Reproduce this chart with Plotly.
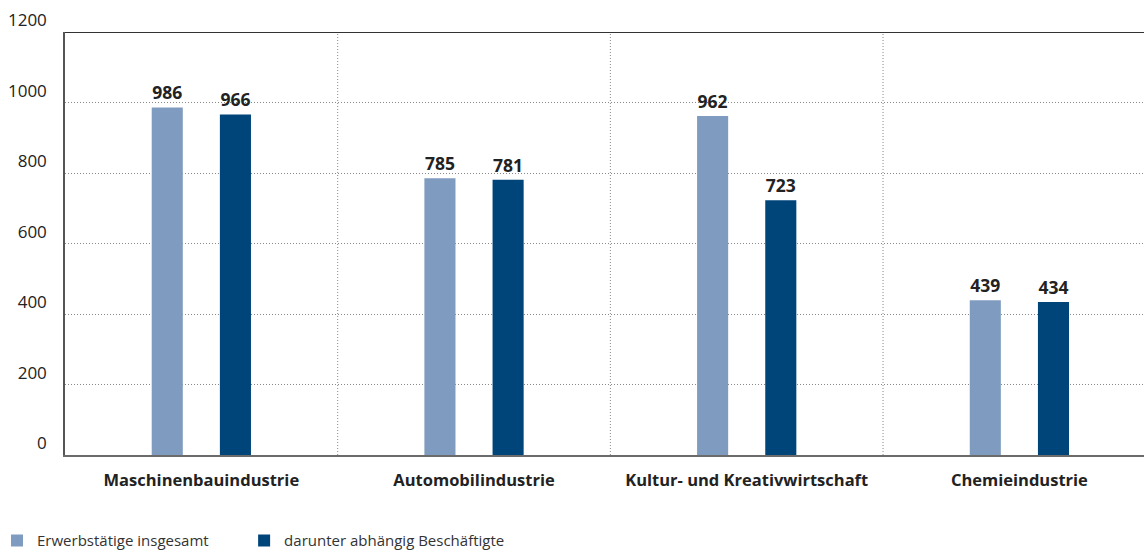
import plotly.graph_objects as go

categories = ["Maschinenbauindustrie", "Automobilindustrie", "Kultur- und Kreativwirtschaft", "Chemieindustrie"]
erwerbstaetige = [986, 785, 962, 439]
abhaengig = [966, 781, 723, 434]
series_names = ["Erwerbstätige insgesamt", "darunter abhängig Beschäftigte"]
y_ticks = [0, 200, 400, 600, 800, 1000, 1200]

light = "#7f9cc0"
dark = "#00457a"
font_family = "Open Sans, Noto Sans, sans-serif"

xpos = list(range(len(categories)))

fig = go.Figure()
fig.add_trace(go.Bar(
    x=xpos, y=erwerbstaetige, name=series_names[0],
    marker=dict(color=light, line=dict(width=0)),
    width=0.114, offset=-0.182,
    text=[str(v) for v in erwerbstaetige], textposition="outside",
    textfont=dict(size=17.5, color="#222222", family=font_family, weight="bold"),
    cliponaxis=False, legend="legend",
))
fig.add_trace(go.Bar(
    x=xpos, y=abhaengig, name=series_names[1],
    marker=dict(color=dark, line=dict(width=0)),
    width=0.114, offset=0.068,
    text=[str(v) for v in abhaengig], textposition="outside",
    textfont=dict(size=17.5, color="#222222", family=font_family, weight="bold"),
    cliponaxis=False, legend="legend2",
))

# vertical dotted separators between categories
for b in [0.5, 1.5, 2.5]:
    fig.add_shape(type="line", xref="x", yref="paper", x0=b, x1=b, y0=0, y1=1,
                  line=dict(color="#888888", width=1, dash="1px,2px"), layer="below")
# top border line
fig.add_shape(type="line", xref="paper", yref="y", x0=0, x1=1, y0=1200, y1=1200,
              line=dict(color="#333333", width=2))

legend_common = dict(orientation="h", xanchor="left", y=-0.164, yanchor="top",
                     font=dict(size=15, color="#333333", family=font_family),
                     itemsizing="constant", bgcolor="rgba(0,0,0,0)")

fig.update_layout(
    width=1144, height=554,
    margin=dict(l=65, r=0, t=32, b=99, autoexpand=False),
    plot_bgcolor="white", paper_bgcolor="white",
    font=dict(family=font_family, size=16, color="#222222"),
    barmode="group",
    showlegend=True,
    legend=dict(x=-0.063, **legend_common),
    legend2=dict(x=0.166, **legend_common),
    xaxis=dict(
        range=[-0.5, 3.457],
        tickvals=xpos, ticktext=categories,
        tickfont=dict(size=16.5, color="#222222", family=font_family, weight="bold"),
        showgrid=False, zeroline=False,
        showline=True, linecolor="#6b6b6b", linewidth=2,
        ticks="", ticklabelstandoff=9, automargin=False,
        fixedrange=True,
    ),
    yaxis=dict(
        range=[0, 1200],
        tickvals=y_ticks,
        tickfont=dict(size=17, color="#222222", family=font_family),
        showgrid=True, gridcolor="#888888", griddash="1px,2px", gridwidth=1,
        zeroline=False,
        showline=True, linecolor="#555555", linewidth=1.5,
        ticks="", ticklabelposition="outside top", ticklabelstandoff=13,
        automargin=False,
        fixedrange=True,
    ),
)

fig.write_html("out.html", config={"displayModeBar": False},
               post_script="document.body.style.margin='0';document.body.style.overflow='hidden';")
